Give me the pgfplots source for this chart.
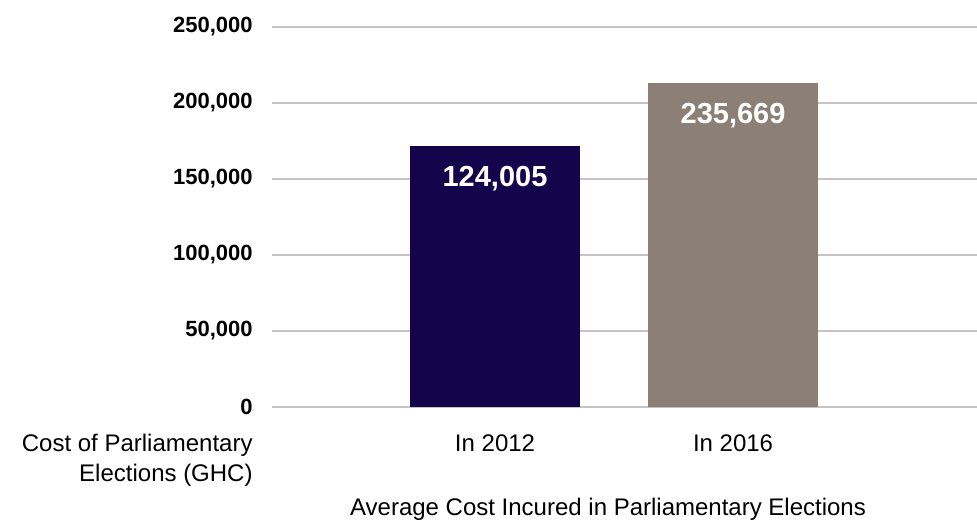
\documentclass[border=0pt]{standalone}
\usepackage{pgfplots}
\pgfplotsset{compat=1.18}
\usepackage{fontspec}
\setmainfont{Liberation Sans}
\definecolor{navy}{HTML}{13044B}
\definecolor{taupe}{HTML}{8B7F76}
\definecolor{gridc}{HTML}{C4C4C4}
\begin{document}
\begin{tikzpicture}
\useasboundingbox (0,0) rectangle (488.5pt,259.5pt);
\begin{axis}[
 at={(136pt,56.1pt)}, anchor=south west,
 scale only axis, width=352.5pt, height=189.9pt,
 xmin=-0.937, xmax=2.025, ymin=0, ymax=250000,
 ybar, bar width=85pt, bar shift=0pt,
 xtick={0,1}, xticklabels={In 2012,In 2016},
 ytick={0,50000,100000,150000,200000,250000},
 scaled y ticks=false,
 ymajorgrids, grid style={gridc, line width=0.75pt},
 axis line style={draw=none}, major tick length=0pt,
 /pgf/number format/.cd, fixed, 1000 sep={,}, assume math mode=true, /pgfplots/.cd,
 yticklabel style={font=\fontsize{11}{13}\selectfont\bfseries, anchor=east, inner sep=0pt, xshift=-9.5pt},
 xticklabel style={font=\fontsize{12}{14}\selectfont, anchor=base, inner sep=0pt, yshift=-22.5pt},
 point meta=explicit symbolic,
 nodes near coords,
 nodes near coords style={font=\fontsize{14.5}{16}\selectfont\bfseries, text=white, anchor=base, yshift=-20pt},
]
\addplot[fill=navy, draw=none] coordinates {(0,171500) [124,005]};
\addplot[fill=taupe, draw=none] coordinates {(1,213000) [235,669]};
\end{axis}
\node[anchor=base east, font=\fontsize{12}{14}\selectfont, inner sep=0pt] at (126.5pt,33.7pt) {Cost of Parliamentary};
\node[anchor=base east, font=\fontsize{12}{14}\selectfont, inner sep=0pt] at (126.5pt,19pt) {Elections (GHC)};
\node[anchor=base, font=\fontsize{12}{14}\selectfont, inner sep=0pt] at (304pt,2pt) {Average Cost Incured in Parliamentary Elections};
\end{tikzpicture}
\end{document}
